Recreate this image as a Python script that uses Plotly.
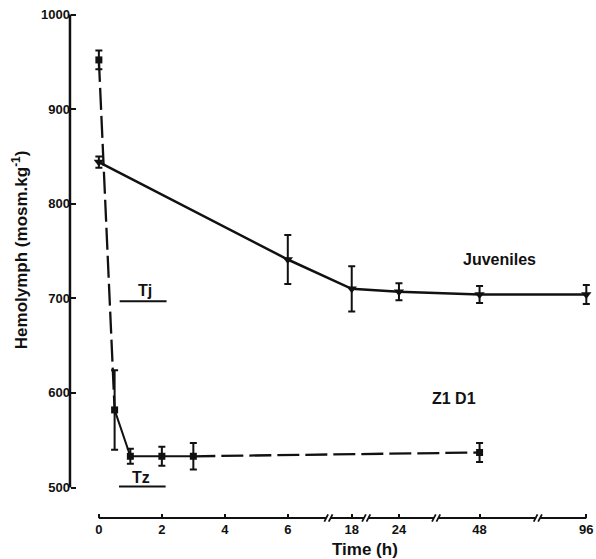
import numpy as np
import plotly.graph_objects as go

# ---------------- data ----------------
tick_hours = [0, 2, 4, 6, 18, 24, 48, 96]
tick_labels = ["0", "2", "4", "6", "18", "24", "48", "96"]
# broken time axis: display position of each labelled hour
tick_pos = [0, 2, 4, 6, 8.03, 9.53, 12.09, 15.48]
axis_breaks_pos = [7.29, 8.49, 10.71, 13.94]

juv_t = [0, 6, 18, 24, 48, 96]
juv_y = [844, 741, 710, 707, 704, 704]
juv_err = [6, 26, 24, 9, 9, 10]

z_t = [0, 0.5, 1, 2, 3, 48]
z_y = [952, 582, 533, 533, 533, 537]
z_err = [10, 42, 8, 10, 14, 10]

y_ticks = [500, 600, 700, 800, 900, 1000]

tj_interval = [0.66, 2.15]
tj_level = 697
tz_interval = [0.64, 2.12]
tz_level = 501


def to_pos(t):
    return np.interp(t, tick_hours, tick_pos)


FONT = "Liberation Sans"
BLACK = "#111111"

juv_x = to_pos(juv_t)
z_x = to_pos(z_t)

fig = go.Figure()

# Juveniles
fig.add_trace(go.Scatter(
    x=juv_x, y=juv_y, mode="lines+markers",
    line=dict(color=BLACK, width=2.5),
    marker=dict(symbol="triangle-down", size=9, color=BLACK),
    error_y=dict(type="data", array=juv_err, color=BLACK, thickness=2, width=3.5),
    cliponaxis=False, showlegend=False, name="Juveniles"))

# Z1 D1 dashed parts
dash_idx = [(0, 1), (4, 5)]
dx, dy = [], []
for a, b in dash_idx:
    dx += [z_x[a], z_x[b], None]
    dy += [z_y[a], z_y[b], None]
fig.add_trace(go.Scatter(
    x=dx, y=dy, mode="lines", connectgaps=False,
    line=dict(color=BLACK, width=2.3, dash="22px,6px"),
    showlegend=False, hoverinfo="skip"))
# Z1 D1 solid part
fig.add_trace(go.Scatter(
    x=z_x[1:5], y=z_y[1:5], mode="lines",
    line=dict(color=BLACK, width=2), showlegend=False, hoverinfo="skip"))
# Z1 D1 markers
fig.add_trace(go.Scatter(
    x=z_x, y=z_y, mode="markers",
    marker=dict(symbol="square", size=7, color=BLACK),
    error_y=dict(type="data", array=z_err, color=BLACK, thickness=2, width=3.5),
    cliponaxis=False, showlegend=False, name="Z1 D1"))

shapes = []
# y axis line
shapes.append(dict(type="line", xref="paper", yref="y", x0=0.0113, x1=0.0113,
                   y0=y_ticks[0], y1=y_ticks[-1], line=dict(color=BLACK, width=2.5)))
# x axis line with breaks
d = 0.07
segs = [0] + axis_breaks_pos + [tick_pos[-1]]
for i in range(len(segs) - 1):
    a = segs[i] + (d if i > 0 else 0)
    b = segs[i + 1] - (d if i < len(segs) - 2 else 0)
    shapes.append(dict(type="line", xref="x", yref="paper", x0=a, x1=b, y0=0, y1=0,
                       line=dict(color=BLACK, width=2.2)))
for bp in axis_breaks_pos:
    for s in (-d, d):
        shapes.append(dict(type="line", xref="x", yref="paper",
                           x0=bp + s - 0.06, x1=bp + s + 0.06, y0=-0.007, y1=0.007,
                           line=dict(color=BLACK, width=1.8)))
# Tj / Tz bars
shapes.append(dict(type="line", xref="x", yref="y", x0=tj_interval[0], x1=tj_interval[1],
                   y0=tj_level, y1=tj_level, line=dict(color=BLACK, width=2)))
shapes.append(dict(type="line", xref="x", yref="y", x0=tz_interval[0], x1=tz_interval[1],
                   y0=tz_level, y1=tz_level, line=dict(color=BLACK, width=2)))

W, H = 596, 559
L, R, T, B = 64, 2, 8, 41
pw, ph = W - L - R, H - T - B

annotations = [
    dict(text="<b>Juveniles</b>", x=12.72, y=740.5, xref="x", yref="y", showarrow=False,
         font=dict(family=FONT, size=16, color=BLACK)),
    dict(text="<b>Z1 D1</b>", x=11.27, y=594.6, xref="x", yref="y", showarrow=False,
         font=dict(family=FONT, size=16, color=BLACK)),
    dict(text="<b>Tj</b>", x=1.46, y=708, xref="x", yref="y", showarrow=False,
         font=dict(family=FONT, size=16, color=BLACK)),
    dict(text="<b>Tz</b>", x=1.33, y=511, xref="x", yref="y", showarrow=False,
         font=dict(family=FONT, size=16, color=BLACK)),
    dict(text="<b>Hemolymph (mosm.kg<sup>-1</sup>)</b>",
         x=(20 - L) / pw, y=(H - B - 250) / ph, xref="paper", yref="paper",
         xanchor="center", yanchor="middle", showarrow=False, textangle=-90,
         font=dict(family=FONT, size=17, color=BLACK)),
    dict(text="<b>Time (h)</b>",
         x=(366 - L) / pw, y=(H - B - 549) / ph, xref="paper", yref="paper",
         xanchor="center", yanchor="middle", showarrow=False,
         font=dict(family=FONT, size=17, color=BLACK)),
]

px_per_pos = (588.3 - 99) / tick_pos[-1]
x0_px = 99
xr = [(L - x0_px) / px_per_pos, (W - R - x0_px) / px_per_pos]
px_per_val = (487.5 - 14.5) / 500
yr = [500 - (H - B - 487.5) / px_per_val, 1000 + (14.5 - T) / px_per_val]

fig.update_layout(
    width=W, height=H, margin=dict(l=L, r=R, t=T, b=B),
    paper_bgcolor="white", plot_bgcolor="white",
    shapes=shapes, annotations=annotations,
    xaxis=dict(range=xr, showgrid=False, zeroline=False, showline=False,
               tickmode="array", tickvals=tick_pos,
               ticktext=["<b>%s</b>" % t for t in tick_labels],
               ticks="inside", ticklen=4, tickwidth=1.8, tickcolor=BLACK,
               ticklabelstandoff=2,
               tickfont=dict(family=FONT, size=13, color=BLACK)),
    yaxis=dict(range=yr, showgrid=False, zeroline=False, showline=False,
               anchor="free", position=(70 - L) / pw,
               tickmode="array", tickvals=y_ticks,
               ticktext=["<b>%d</b>" % v for v in y_ticks],
               ticks="inside", ticklen=5, tickwidth=2, tickcolor=BLACK,
               tickfont=dict(family=FONT, size=13, color=BLACK)),
)

fig.write_html("out.html")
